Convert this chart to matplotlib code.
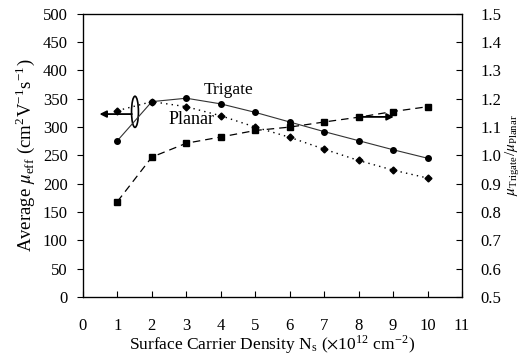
import matplotlib.pyplot as plt
from matplotlib.patches import Ellipse

plt.rcParams['font.family'] = ['Liberation Serif', 'DejaVu Serif']
plt.rcParams['mathtext.fontset'] = 'stix'

# ---- data ----
ns = [1, 2, 3, 4, 5, 6, 7, 8, 9, 10]
mu_trigate = [276, 345, 351, 341, 326, 309, 292, 276, 260, 245]
mu_planar = [329, 345, 336, 320, 300, 282, 261, 241, 224, 210]
ratio = [0.837, 0.994, 1.043, 1.065, 1.088, 1.100, 1.118, 1.135, 1.155, 1.172]

x_ticks = list(range(0, 12))
y_left_ticks = list(range(0, 501, 50))
y_right_ticks = [0.5, 0.6, 0.7, 0.8, 0.9, 1.0, 1.1, 1.2, 1.3, 1.4, 1.5]

fig = plt.figure(figsize=(5.25, 3.56), dpi=100)
ax1 = fig.add_axes([0.158, 0.166, 0.722, 0.795])
ax2 = ax1.twinx()

# left axis: mobility
ax1.plot(ns, mu_trigate, color='#333333', linewidth=0.8, marker='o',
         markersize=4, markerfacecolor='black', markeredgecolor='black')
ax1.plot(ns, mu_planar, color='black', linewidth=1.0, linestyle=(0, (1, 3)),
         marker='D', markersize=3.5, markerfacecolor='black')

# right axis: ratio
ax2.plot(ns, ratio, color='black', linewidth=0.9, linestyle=(0, (6, 4)),
         marker='s', markersize=4.5, markerfacecolor='black')

ax1.set_xlim(0, 11)
ax1.set_ylim(0, 500)
ax2.set_ylim(0.5, 1.5)
ax1.set_xticks(x_ticks)
ax1.set_yticks(y_left_ticks)
ax2.set_yticks(y_right_ticks)
ax2.set_yticklabels([f"{v:.1f}" for v in y_right_ticks])

ax1.tick_params(axis='x', direction='in', length=4, pad=15, labelsize=12)
ax1.tick_params(axis='y', direction='out', length=4, pad=7, labelsize=12)
ax2.tick_params(axis='y', direction='in', length=4, pad=13, labelsize=12)

ax1.set_xlabel(r"Surface Carrier Density N$_\mathregular{s}$ ($\times$10$^\mathregular{12}$ cm$^\mathregular{-2}$)",
               fontsize=12.5, labelpad=0)
ax1.set_ylabel(r"Average $\mu_\mathregular{eff}$ (cm$^\mathregular{2}$V$^\mathregular{-1}$s$^\mathregular{-1}$)",
               fontsize=13.5, labelpad=4)
ax2.set_ylabel(r"$\mu_\mathregular{Trigate}$/$\mu_\mathregular{Planar}$", fontsize=11, labelpad=2)

for sp in ax1.spines.values():
    sp.set_linewidth(0.9)

# annotations
ax1.text(4.24, 366, "Trigate", fontsize=12.5, ha='center', va='center')
ax1.text(3.16, 314, "Planar", fontsize=13, ha='center', va='center')
ax1.add_patch(Ellipse((1.51, 327), 0.2, 55, fill=False, linewidth=1.2, edgecolor='black'))
ax1.annotate("", xy=(0.4, 323), xytext=(1.5, 323),
             arrowprops=dict(arrowstyle='-|>', color='black', linewidth=1.3, mutation_scale=10))
ax1.annotate("", xy=(9.1, 318), xytext=(8.04, 318),
             arrowprops=dict(arrowstyle='-|>', color='black', linewidth=1.3, mutation_scale=10))

fig.savefig("out.png", dpi=100)
